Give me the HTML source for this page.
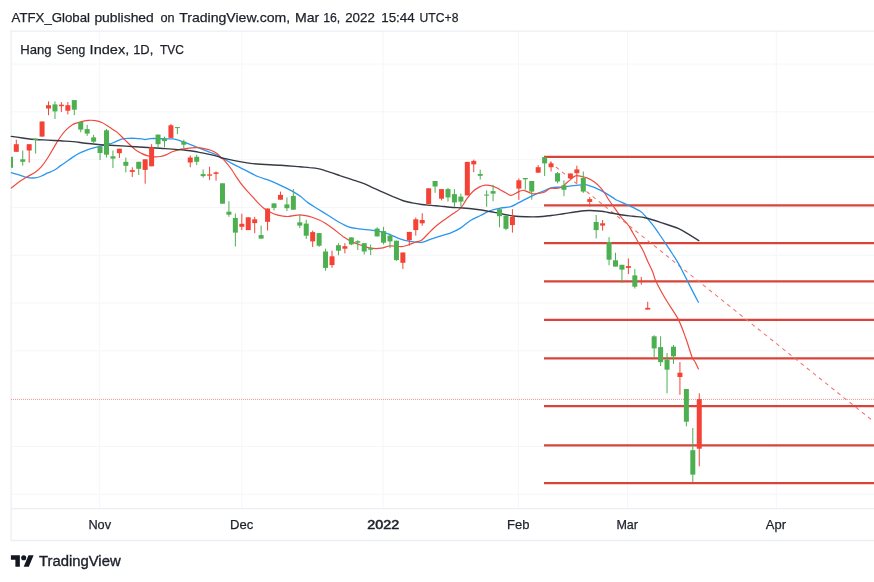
<!DOCTYPE html>
<html><head><meta charset="utf-8"><title>Hang Seng Index, 1D, TVC</title>
<style>
html,body{margin:0;padding:0;background:#fff;}
body{width:874px;height:582px;overflow:hidden;position:relative;font-family:"Liberation Sans",sans-serif;}
svg{position:absolute;left:0;top:0;display:block;}
text{font-family:"Liberation Sans",sans-serif;}
</style></head><body>
<svg width="874" height="582" viewBox="0 0 874 582">
<rect width="874" height="582" fill="#ffffff"/>

<g stroke="#f5f6fa" stroke-width="1">
<line x1="11" x2="874" y1="64.1" y2="64.1"/>
<line x1="11" x2="874" y1="111.9" y2="111.9"/>
<line x1="11" x2="874" y1="159.7" y2="159.7"/>
<line x1="11" x2="874" y1="207.5" y2="207.5"/>
<line x1="11" x2="874" y1="255.3" y2="255.3"/>
<line x1="11" x2="874" y1="303.1" y2="303.1"/>
<line x1="11" x2="874" y1="350.9" y2="350.9"/>
<line x1="11" x2="874" y1="398.7" y2="398.7"/>
<line x1="11" x2="874" y1="446.5" y2="446.5"/>
<line x1="11" x2="874" y1="494.3" y2="494.3"/>
<line y1="31" y2="508" x1="99.7" x2="99.7"/>
<line y1="31" y2="508" x1="241.9" x2="241.9"/>
<line y1="31" y2="508" x1="383.2" x2="383.2"/>
<line y1="31" y2="508" x1="518.4" x2="518.4"/>
<line y1="31" y2="508" x1="627.6" x2="627.6"/>
<line y1="31" y2="508" x1="776.3" x2="776.3"/>
</g>
<g stroke="#eceef3" stroke-width="1.3" fill="none">
<line x1="10.5" x2="874" y1="31.1" y2="31.1"/>
<line x1="10.5" x2="874" y1="508.7" y2="508.7"/>
<line x1="10.5" x2="874" y1="540.5" y2="540.5"/>
<line x1="11.1" x2="11.1" y1="30.5" y2="541"/>
</g>
<line x1="11" x2="874" y1="399.5" y2="399.5" stroke="#f44336" stroke-opacity="0.5" stroke-width="1" stroke-dasharray="1 1" shape-rendering="crispEdges"/>
<g stroke="#d9443a" stroke-width="2.25">
<line x1="544" x2="874" y1="156.9" y2="156.9"/>
<line x1="544" x2="874" y1="205.3" y2="205.3"/>
<line x1="544" x2="874" y1="243.0" y2="243.0"/>
<line x1="544" x2="874" y1="281.3" y2="281.3"/>
<line x1="544" x2="874" y1="319.9" y2="319.9"/>
<line x1="544" x2="874" y1="358.4" y2="358.4"/>
<line x1="544" x2="874" y1="406.2" y2="406.2"/>
<line x1="544" x2="874" y1="445.3" y2="445.3"/>
<line x1="544" x2="874" y1="483.1" y2="483.1"/>
</g>
<line x1="544" y1="157.5" x2="874" y2="421.8" stroke="#f0746c" stroke-width="1.05" stroke-dasharray="3.9 3.94" stroke-dashoffset="0.44"/>
<path d="M11.3 172.6C12.4 172.9 15.1 173.6 17.6 174.4C20.1 175.2 23.5 176.7 26.4 177.3C29.3 177.9 32.7 178.1 35.2 177.9C37.7 177.7 39.4 176.8 41.5 176.0C43.6 175.2 45.7 173.8 47.8 172.9C49.9 172.0 52.0 171.5 54.1 170.3C56.2 169.1 58.2 167.4 60.3 165.9C62.4 164.4 64.5 163.0 66.6 161.5C68.7 160.0 70.6 158.6 72.9 157.1C75.2 155.6 78.0 153.9 80.5 152.7C83.0 151.4 85.5 150.5 88.0 149.6C90.5 148.7 93.3 148.0 95.6 147.4C97.9 146.8 99.8 146.5 101.9 145.8C104.0 145.1 106.9 143.6 108.2 143.3C109.5 143.0 108.7 144.2 110.0 143.9C111.3 143.6 114.2 142.2 116.3 141.4C118.4 140.6 120.5 139.4 122.6 138.9C124.7 138.4 126.8 138.4 128.9 138.3C131.0 138.2 133.1 138.2 135.2 138.3C137.3 138.4 139.8 138.7 141.5 138.9C143.2 139.1 143.7 139.6 145.2 139.5C146.7 139.4 148.2 138.8 150.3 138.6C152.4 138.4 155.1 138.5 157.8 138.6C160.5 138.7 164.1 138.8 166.6 138.9C169.1 139.0 170.8 138.7 172.9 138.9C175.0 139.2 177.1 139.8 179.2 140.4C181.3 141.0 183.4 141.9 185.5 142.7C187.6 143.5 189.7 144.4 191.8 145.2C193.9 146.0 196.0 146.9 198.1 147.7C200.2 148.5 202.3 149.4 204.4 150.2C206.5 151.0 208.6 151.7 210.7 152.5C212.8 153.3 215.4 154.2 217.0 155.0C218.6 155.8 219.1 156.6 220.0 157.1C220.9 157.6 220.6 157.0 222.7 158.1C224.8 159.2 228.9 161.9 232.7 163.9C236.5 165.9 241.1 168.1 245.3 170.2C249.5 172.3 253.7 174.7 257.9 176.5C262.1 178.3 266.3 179.1 270.5 180.8C274.7 182.5 279.3 184.8 283.1 186.6C286.9 188.4 290.2 189.9 293.1 191.6C296.0 193.3 298.2 194.7 300.7 196.6C303.2 198.5 305.3 200.8 308.2 202.9C311.1 205.0 314.9 207.1 318.3 209.2C321.7 211.3 325.0 213.4 328.4 215.5C331.8 217.6 335.0 219.9 338.4 221.8C341.8 223.7 345.1 225.6 348.5 226.8C351.9 228.0 354.8 228.2 358.6 228.8C362.4 229.4 367.4 229.6 371.2 230.1C375.0 230.6 377.8 231.1 381.2 231.9C384.6 232.7 388.2 233.9 391.3 235.1C394.4 236.3 396.9 237.8 400.0 238.9C403.1 240.0 406.5 240.8 410.1 241.4C413.7 242.0 418.0 242.7 421.4 242.4C424.8 242.1 427.0 240.5 430.2 239.4C433.4 238.3 436.9 237.2 440.3 236.1C443.7 235.0 447.0 234.4 450.3 233.1C453.6 231.8 457.0 230.2 460.4 228.1C463.8 226.0 467.1 222.6 470.5 220.5C473.9 218.4 477.1 217.2 480.5 215.5C483.9 213.8 487.2 211.8 490.6 210.5C494.0 209.2 497.4 208.6 500.7 208.0C504.0 207.4 507.8 207.5 510.7 206.7C513.6 205.8 515.8 204.2 518.3 202.9C520.8 201.6 522.9 200.6 525.8 199.1C528.7 197.6 532.9 195.4 535.9 194.1C538.9 192.8 541.0 192.1 543.5 191.1C546.0 190.1 548.1 188.5 551.0 187.8C553.9 187.1 557.7 187.4 561.1 187.1C564.5 186.8 567.9 186.2 571.2 185.8C574.6 185.4 578.6 185.0 581.2 184.8C583.8 184.6 583.5 183.9 586.8 184.8C590.0 185.7 596.3 188.1 600.7 190.3C605.1 192.5 610.7 196.3 613.3 197.9C615.9 199.5 614.0 198.8 616.4 200.0C618.8 201.2 623.8 203.1 627.8 205.0C631.8 206.9 637.2 209.2 640.3 211.3C643.4 213.4 644.5 215.3 646.6 217.6C648.7 219.9 650.8 222.5 652.9 225.2C655.0 227.9 657.1 231.0 659.2 234.0C661.3 237.0 663.4 240.2 665.5 243.4C667.6 246.6 669.7 249.7 671.8 252.9C673.9 256.1 676.2 259.6 678.1 262.9C680.0 266.1 681.4 269.1 683.1 272.4C684.8 275.7 685.9 277.9 688.4 282.9C690.9 287.9 696.7 299.1 698.4 302.3" fill="none" stroke="#2a96f0" stroke-width="1.3" stroke-linejoin="round" stroke-linecap="round"/>
<path d="M11.3 188.0C12.4 187.2 15.1 184.7 17.6 182.9C20.1 181.1 23.5 179.1 26.4 177.3C29.3 175.5 32.7 174.0 35.2 172.2C37.7 170.4 39.4 169.0 41.5 166.6C43.6 164.2 45.7 161.1 47.8 157.8C49.9 154.6 52.0 150.6 54.1 147.1C56.2 143.6 58.2 139.9 60.3 137.0C62.4 134.1 64.5 131.5 66.6 129.4C68.7 127.3 70.6 125.7 72.9 124.4C75.2 123.2 78.0 122.6 80.5 121.9C83.0 121.2 85.5 120.6 88.0 120.4C90.5 120.2 93.3 120.2 95.6 120.6C97.9 120.9 99.8 121.5 101.9 122.5C104.0 123.5 106.9 125.5 108.2 126.3C109.5 127.1 108.4 126.5 110.0 127.6C111.6 128.7 115.1 130.5 117.6 132.6C120.1 134.7 122.2 137.3 125.1 140.1C128.0 142.9 132.5 147.4 135.2 149.6C137.9 151.8 139.4 152.3 141.5 153.4C143.6 154.5 145.7 155.3 147.8 155.9C149.9 156.5 152.0 156.7 154.1 156.8C156.2 156.9 158.2 156.9 160.3 156.5C162.4 156.1 164.5 155.4 166.6 154.6C168.7 153.8 170.8 152.3 172.9 151.5C175.0 150.7 177.1 150.1 179.2 149.6C181.3 149.1 183.4 149.0 185.5 148.7C187.6 148.4 189.7 148.1 191.8 147.9C193.9 147.7 196.0 147.6 198.1 147.7C200.2 147.8 202.3 148.3 204.4 148.7C206.5 149.1 208.6 149.4 210.7 150.2C212.8 151.0 215.4 152.3 217.0 153.4C218.6 154.5 218.6 155.2 220.0 156.5C221.4 157.8 223.2 159.2 225.2 161.4C227.2 163.7 230.1 167.3 232.0 170.0C233.9 172.7 235.2 175.3 236.8 177.7C238.4 180.1 239.8 182.2 241.6 184.4C243.3 186.6 245.4 189.0 247.3 191.1C249.2 193.2 251.0 195.2 252.9 197.2C254.8 199.2 256.6 201.4 258.5 203.3C260.4 205.2 262.1 206.9 264.1 208.4C266.1 209.9 268.4 211.2 270.5 212.3C272.6 213.4 274.9 214.3 276.9 214.9C278.9 215.5 280.6 215.7 282.5 216.0C284.4 216.3 286.2 216.6 288.1 216.5C290.0 216.4 291.8 216.0 293.7 215.7C295.6 215.4 297.3 214.9 299.3 214.9C301.3 214.9 303.6 215.3 305.7 215.7C307.8 216.1 310.0 216.6 312.1 217.3C314.2 218.0 316.4 218.8 318.5 219.7C320.6 220.6 322.5 221.4 324.9 222.9C327.3 224.4 330.4 226.6 332.9 228.5C335.4 230.4 338.2 232.7 340.0 234.1C341.8 235.5 341.7 235.7 343.5 236.9C345.3 238.1 348.1 240.0 351.0 241.4C353.9 242.8 357.7 244.1 361.1 245.2C364.5 246.3 367.9 247.7 371.2 248.2C374.5 248.7 378.1 248.6 381.2 248.2C384.3 247.8 386.6 246.2 390.0 245.9C393.4 245.6 398.2 246.8 401.3 246.6C404.4 246.4 406.6 245.4 408.9 244.7C411.2 244.0 413.1 242.9 415.2 242.2C417.3 241.5 419.4 241.7 421.5 240.3C423.6 238.9 425.7 236.1 427.8 234.0C429.9 231.9 432.0 229.6 434.1 227.7C436.2 225.8 438.2 224.3 440.3 222.7C442.4 221.1 444.5 219.8 446.6 218.3C448.7 216.8 450.8 215.3 452.9 213.8C455.0 212.3 457.5 210.9 459.2 209.4C460.9 207.9 461.8 206.7 463.0 205.0C464.2 203.3 465.0 201.3 466.6 199.1C468.2 196.8 470.8 193.5 472.9 191.5C475.0 189.5 477.1 188.2 479.2 187.1C481.3 186.0 483.4 185.4 485.5 185.2C487.6 185.0 489.7 185.3 491.8 185.8C493.9 186.3 496.7 187.8 498.1 188.4C499.5 189.1 498.7 189.0 500.0 189.7C501.3 190.4 503.8 191.9 505.7 192.8C507.6 193.7 509.1 195.5 511.3 195.3C513.5 195.1 516.8 192.4 518.9 191.6C521.0 190.8 521.8 190.0 523.9 190.3C526.0 190.6 529.2 193.0 531.5 193.5C533.8 194.0 535.7 193.7 537.8 193.5C539.9 193.3 542.0 193.0 544.1 192.2C546.2 191.3 548.2 189.0 550.3 188.4C552.4 187.8 554.7 188.6 556.6 188.4C558.5 188.2 560.2 187.9 561.7 187.2C563.2 186.5 563.9 185.3 565.4 184.0C566.9 182.7 568.8 181.0 570.5 179.6C572.2 178.2 573.6 176.3 575.5 175.8C577.4 175.3 579.7 176.1 581.8 176.5C583.9 176.9 586.0 177.5 588.1 178.4C590.2 179.3 592.3 180.5 594.4 182.1C596.5 183.7 598.8 185.7 600.7 187.8C602.6 189.9 604.3 192.7 605.7 194.7C607.1 196.7 607.3 197.7 608.9 200.0C610.5 202.3 613.1 205.9 615.2 208.8C617.3 211.7 619.4 215.0 621.5 217.6C623.6 220.2 625.9 222.0 627.8 224.5C629.7 227.0 631.1 229.9 632.8 232.7C634.5 235.5 636.1 238.6 637.8 241.5C639.5 244.4 641.2 246.9 642.9 250.3C644.6 253.7 646.2 258.0 647.9 261.7C649.6 265.4 651.6 269.3 652.9 272.4C654.2 275.5 653.5 275.9 655.6 280.4C657.7 284.9 661.9 292.8 665.7 299.3C669.5 305.8 674.9 312.9 678.3 319.4C681.6 325.9 683.5 332.0 685.8 338.3C688.1 344.6 690.6 353.4 692.1 357.2C693.6 361.0 693.7 359.4 694.7 361.3C695.8 363.2 697.8 367.6 698.4 368.9" fill="none" stroke="#ef4a3e" stroke-width="1.2" stroke-linejoin="round" stroke-linecap="round"/>
<path d="M11.3 136.4C13.2 136.7 18.6 137.5 22.6 138.0C26.6 138.5 31.0 139.2 35.2 139.5C39.4 139.8 43.6 139.9 47.8 140.1C52.0 140.3 56.1 140.6 60.3 140.8C64.5 141.1 68.7 141.2 72.9 141.6C77.1 142.0 81.3 142.8 85.5 143.3C89.7 143.8 94.3 144.2 98.1 144.5C101.9 144.8 106.2 145.3 108.2 145.4C110.2 145.5 105.5 145.0 110.0 145.2C114.5 145.4 126.8 146.2 135.2 146.7C143.6 147.2 151.9 147.7 160.3 148.3C168.7 148.9 179.2 149.6 185.5 150.2C191.8 150.8 193.9 151.4 198.1 152.1C202.3 152.8 207.0 153.8 210.7 154.6C214.3 155.4 218.0 156.5 220.0 157.1C222.0 157.7 217.6 157.0 222.7 158.1C227.8 159.2 240.7 162.2 250.3 163.4C259.9 164.6 272.2 164.6 280.5 165.2C288.8 165.8 295.1 166.4 300.0 166.8C304.9 167.2 306.4 167.2 309.6 167.6C312.8 167.9 315.9 168.2 319.2 168.9C322.5 169.7 326.1 171.0 329.6 172.1C333.1 173.2 336.2 174.3 340.0 175.6C343.8 176.8 348.1 178.3 352.1 179.6C356.1 180.9 360.5 182.2 364.1 183.6C367.7 185.0 370.5 186.6 373.7 188.1C376.9 189.6 380.1 191.0 383.3 192.4C386.5 193.8 389.7 195.2 392.9 196.6C396.1 197.9 399.3 199.4 402.5 200.5C405.7 201.6 408.9 202.2 412.1 202.9C415.3 203.6 418.5 204.1 421.7 204.5C424.9 204.9 428.2 205.1 431.3 205.4C434.4 205.7 436.8 205.8 440.0 206.1C443.2 206.4 446.5 206.9 450.3 207.2C454.1 207.5 458.7 207.7 462.9 208.0C467.1 208.3 471.3 208.7 475.5 209.2C479.7 209.7 483.9 210.4 488.1 211.2C492.3 211.9 496.5 212.9 500.7 213.7C504.9 214.5 509.1 215.5 513.3 216.0C517.5 216.5 521.6 216.7 525.8 216.8C530.0 216.9 534.2 217.0 538.4 216.8C542.6 216.6 546.8 216.0 551.0 215.5C555.2 215.0 559.4 214.3 563.6 213.7C567.8 213.1 572.0 212.2 576.2 211.7C580.4 211.2 584.6 210.6 588.8 210.5C593.0 210.4 598.2 210.9 601.4 211.2C604.6 211.5 605.0 211.9 608.2 212.5C611.4 213.1 616.6 214.2 620.8 214.8C625.0 215.4 629.2 215.8 633.4 216.3C637.6 216.8 641.4 216.9 646.0 218.0C650.6 219.1 655.6 220.8 661.1 222.6C666.6 224.4 674.1 226.6 678.7 228.6C683.3 230.6 685.4 232.4 688.8 234.4C692.1 236.4 697.1 239.6 698.8 240.7" fill="none" stroke="#363a45" stroke-width="1.4" stroke-linejoin="round" stroke-linecap="round"/>
<g>
<rect x="11" y="156.8" width="2" height="11" fill="#4caf50"/>
<rect x="15.80" y="139.7" width="1" height="12.1" fill="#f44336"/>
<rect x="13.80" y="144.2" width="5" height="7.6" fill="#f44336"/>
<rect x="22.24" y="150.5" width="1" height="15.1" fill="#4caf50"/>
<rect x="20.24" y="159.3" width="5" height="2.5" fill="#4caf50"/>
<rect x="28.69" y="144.2" width="1" height="18.4" fill="#f44336"/>
<rect x="26.69" y="144.2" width="5" height="6.3" fill="#f44336"/>
<rect x="35.13" y="138.6" width="1" height="14.9" fill="#4caf50"/>
<rect x="33.13" y="138.6" width="5" height="1.3" fill="#4caf50"/>
<rect x="41.57" y="121.5" width="1" height="15.1" fill="#f44336"/>
<rect x="39.57" y="121.5" width="5" height="15.1" fill="#f44336"/>
<rect x="48.02" y="101.4" width="1" height="13.8" fill="#f44336"/>
<rect x="46.02" y="105.2" width="5" height="3.3" fill="#f44336"/>
<rect x="54.46" y="101.4" width="1" height="17.6" fill="#4caf50"/>
<rect x="52.46" y="104.4" width="5" height="7.0" fill="#4caf50"/>
<rect x="60.90" y="102.1" width="1" height="9.8" fill="#f44336"/>
<rect x="58.90" y="104.7" width="5" height="1.5" fill="#f44336"/>
<rect x="67.34" y="102.1" width="1" height="12.3" fill="#f44336"/>
<rect x="65.34" y="105.2" width="5" height="5.5" fill="#f44336"/>
<rect x="73.79" y="100.1" width="1" height="15.1" fill="#4caf50"/>
<rect x="71.79" y="100.1" width="5" height="9.6" fill="#4caf50"/>
<rect x="80.23" y="122.0" width="1" height="10.3" fill="#4caf50"/>
<rect x="78.23" y="122.0" width="5" height="7.6" fill="#4caf50"/>
<rect x="86.67" y="124.8" width="1" height="11.1" fill="#4caf50"/>
<rect x="84.67" y="129.1" width="5" height="4.5" fill="#4caf50"/>
<rect x="93.12" y="134.9" width="1" height="8.6" fill="#4caf50"/>
<rect x="91.12" y="137.4" width="5" height="4.3" fill="#4caf50"/>
<rect x="99.56" y="146.7" width="1" height="13.3" fill="#4caf50"/>
<rect x="97.56" y="146.7" width="5" height="6.3" fill="#4caf50"/>
<rect x="106.00" y="129.1" width="1" height="28.4" fill="#4caf50"/>
<rect x="104.00" y="130.3" width="5" height="24.4" fill="#4caf50"/>
<rect x="112.44" y="150.5" width="1" height="17.6" fill="#4caf50"/>
<rect x="110.44" y="156.3" width="5" height="2.3" fill="#4caf50"/>
<rect x="118.89" y="148.7" width="1" height="9.3" fill="#f44336"/>
<rect x="116.89" y="148.7" width="5" height="4.5" fill="#f44336"/>
<rect x="125.33" y="157.5" width="1" height="14.9" fill="#4caf50"/>
<rect x="123.33" y="161.8" width="5" height="4.0" fill="#4caf50"/>
<rect x="131.77" y="167.3" width="1" height="9.6" fill="#f44336"/>
<rect x="129.77" y="170.1" width="5" height="1.8" fill="#f44336"/>
<rect x="138.22" y="161.8" width="1" height="13.1" fill="#4caf50"/>
<rect x="136.22" y="161.8" width="5" height="7.0" fill="#4caf50"/>
<rect x="144.66" y="159.3" width="1" height="24.4" fill="#f44336"/>
<rect x="142.66" y="159.3" width="5" height="10.6" fill="#f44336"/>
<rect x="151.10" y="144.2" width="1" height="22.1" fill="#f44336"/>
<rect x="149.10" y="147.2" width="5" height="19.1" fill="#f44336"/>
<rect x="157.55" y="134.6" width="1" height="13.3" fill="#4caf50"/>
<rect x="155.55" y="134.6" width="5" height="9.6" fill="#4caf50"/>
<rect x="163.99" y="136.6" width="1" height="10.8" fill="#4caf50"/>
<rect x="161.99" y="138.6" width="5" height="2.5" fill="#4caf50"/>
<rect x="170.43" y="124.0" width="1" height="13.8" fill="#f44336"/>
<rect x="168.43" y="125.3" width="5" height="12.6" fill="#f44336"/>
<rect x="176.88" y="127.1" width="1" height="7.0" fill="#4caf50"/>
<rect x="174.88" y="127.1" width="5" height="1.0" fill="#4caf50"/>
<rect x="183.32" y="139.7" width="1" height="8.3" fill="#4caf50"/>
<rect x="181.32" y="141.7" width="5" height="3.0" fill="#4caf50"/>
<rect x="189.76" y="155.5" width="1" height="11.8" fill="#f44336"/>
<rect x="187.76" y="157.5" width="5" height="5.0" fill="#f44336"/>
<rect x="196.20" y="154.8" width="1" height="10.3" fill="#4caf50"/>
<rect x="194.20" y="156.8" width="5" height="5.0" fill="#4caf50"/>
<rect x="202.65" y="169.4" width="1" height="8.3" fill="#4caf50"/>
<rect x="200.65" y="174.1" width="5" height="2.0" fill="#4caf50"/>
<rect x="209.09" y="166.8" width="1" height="13.3" fill="#f44336"/>
<rect x="207.09" y="174.4" width="5" height="1.3" fill="#f44336"/>
<rect x="215.53" y="171.4" width="1" height="9.3" fill="#f44336"/>
<rect x="213.53" y="172.4" width="5" height="1.5" fill="#f44336"/>
<rect x="221.98" y="183.3" width="1" height="20.4" fill="#4caf50"/>
<rect x="219.98" y="183.3" width="5" height="20.4" fill="#4caf50"/>
<rect x="228.42" y="201.2" width="1" height="15.6" fill="#4caf50"/>
<rect x="226.42" y="211.7" width="5" height="3.0" fill="#4caf50"/>
<rect x="234.86" y="213.5" width="1" height="33.0" fill="#4caf50"/>
<rect x="232.86" y="218.0" width="5" height="14.6" fill="#4caf50"/>
<rect x="241.31" y="213.7" width="1" height="16.4" fill="#f44336"/>
<rect x="239.31" y="223.8" width="5" height="3.0" fill="#f44336"/>
<rect x="247.75" y="217.3" width="1" height="12.8" fill="#f44336"/>
<rect x="245.75" y="217.3" width="5" height="12.8" fill="#f44336"/>
<rect x="254.19" y="216.8" width="1" height="16.4" fill="#f44336"/>
<rect x="252.19" y="219.3" width="5" height="3.8" fill="#f44336"/>
<rect x="260.63" y="225.6" width="1" height="13.1" fill="#4caf50"/>
<rect x="258.63" y="235.1" width="5" height="3.5" fill="#4caf50"/>
<rect x="267.08" y="208.5" width="1" height="22.1" fill="#f44336"/>
<rect x="265.08" y="208.5" width="5" height="13.3" fill="#f44336"/>
<rect x="273.52" y="203.4" width="1" height="7.0" fill="#4caf50"/>
<rect x="271.52" y="203.4" width="5" height="4.5" fill="#4caf50"/>
<rect x="279.96" y="191.6" width="1" height="8.1" fill="#f44336"/>
<rect x="277.96" y="194.9" width="5" height="4.8" fill="#f44336"/>
<rect x="286.41" y="197.4" width="1" height="13.6" fill="#4caf50"/>
<rect x="284.41" y="204.4" width="5" height="3.8" fill="#4caf50"/>
<rect x="292.85" y="189.1" width="1" height="20.6" fill="#4caf50"/>
<rect x="290.85" y="195.9" width="5" height="13.8" fill="#4caf50"/>
<rect x="299.29" y="215.0" width="1" height="13.1" fill="#4caf50"/>
<rect x="297.29" y="222.3" width="5" height="3.3" fill="#4caf50"/>
<rect x="305.74" y="219.8" width="1" height="19.1" fill="#4caf50"/>
<rect x="303.74" y="223.6" width="5" height="12.1" fill="#4caf50"/>
<rect x="312.18" y="230.6" width="1" height="16.4" fill="#f44336"/>
<rect x="310.18" y="232.1" width="5" height="9.3" fill="#f44336"/>
<rect x="318.62" y="233.1" width="1" height="13.8" fill="#4caf50"/>
<rect x="316.62" y="233.1" width="5" height="12.6" fill="#4caf50"/>
<rect x="325.06" y="248.7" width="1" height="22.1" fill="#4caf50"/>
<rect x="323.06" y="251.5" width="5" height="16.4" fill="#4caf50"/>
<rect x="331.51" y="250.7" width="1" height="17.1" fill="#f44336"/>
<rect x="329.51" y="256.3" width="5" height="8.8" fill="#f44336"/>
<rect x="337.95" y="243.2" width="1" height="12.1" fill="#4caf50"/>
<rect x="335.95" y="245.2" width="5" height="5.5" fill="#4caf50"/>
<rect x="344.39" y="243.2" width="1" height="10.1" fill="#f44336"/>
<rect x="342.39" y="246.2" width="5" height="2.5" fill="#f44336"/>
<rect x="350.84" y="237.4" width="1" height="7.8" fill="#4caf50"/>
<rect x="348.84" y="237.4" width="5" height="7.0" fill="#4caf50"/>
<rect x="357.28" y="240.2" width="1" height="9.8" fill="#4caf50"/>
<rect x="355.28" y="241.2" width="5" height="1.5" fill="#4caf50"/>
<rect x="363.72" y="243.2" width="1" height="11.3" fill="#4caf50"/>
<rect x="361.72" y="243.2" width="5" height="8.3" fill="#4caf50"/>
<rect x="370.16" y="244.5" width="1" height="10.6" fill="#4caf50"/>
<rect x="368.16" y="248.2" width="5" height="1.5" fill="#4caf50"/>
<rect x="376.61" y="227.3" width="1" height="9.1" fill="#4caf50"/>
<rect x="374.61" y="228.6" width="5" height="7.8" fill="#4caf50"/>
<rect x="383.05" y="226.8" width="1" height="17.6" fill="#4caf50"/>
<rect x="381.05" y="231.1" width="5" height="11.6" fill="#4caf50"/>
<rect x="389.49" y="233.6" width="1" height="14.6" fill="#4caf50"/>
<rect x="387.49" y="235.6" width="5" height="5.8" fill="#4caf50"/>
<rect x="395.94" y="240.7" width="1" height="20.1" fill="#4caf50"/>
<rect x="393.94" y="240.7" width="5" height="19.4" fill="#4caf50"/>
<rect x="402.38" y="252.5" width="1" height="16.4" fill="#f44336"/>
<rect x="400.38" y="252.5" width="5" height="10.3" fill="#f44336"/>
<rect x="408.82" y="231.9" width="1" height="13.8" fill="#f44336"/>
<rect x="406.82" y="231.9" width="5" height="8.3" fill="#f44336"/>
<rect x="415.27" y="217.5" width="1" height="18.1" fill="#f44336"/>
<rect x="413.27" y="219.3" width="5" height="10.8" fill="#f44336"/>
<rect x="421.71" y="213.2" width="1" height="12.6" fill="#f44336"/>
<rect x="419.71" y="220.0" width="5" height="3.3" fill="#f44336"/>
<rect x="428.15" y="188.3" width="1" height="15.9" fill="#f44336"/>
<rect x="426.15" y="188.3" width="5" height="15.9" fill="#f44336"/>
<rect x="434.59" y="181.0" width="1" height="11.8" fill="#4caf50"/>
<rect x="432.59" y="181.0" width="5" height="5.5" fill="#4caf50"/>
<rect x="441.04" y="189.1" width="1" height="11.3" fill="#f44336"/>
<rect x="439.04" y="189.1" width="5" height="9.6" fill="#f44336"/>
<rect x="447.48" y="187.8" width="1" height="13.8" fill="#4caf50"/>
<rect x="445.48" y="189.1" width="5" height="8.3" fill="#4caf50"/>
<rect x="453.92" y="189.1" width="1" height="17.6" fill="#4caf50"/>
<rect x="451.92" y="194.1" width="5" height="8.3" fill="#4caf50"/>
<rect x="460.37" y="193.6" width="1" height="13.1" fill="#4caf50"/>
<rect x="458.37" y="196.6" width="5" height="5.0" fill="#4caf50"/>
<rect x="466.81" y="161.9" width="1" height="33.5" fill="#f44336"/>
<rect x="464.81" y="161.9" width="5" height="33.5" fill="#f44336"/>
<rect x="473.25" y="159.6" width="1" height="12.6" fill="#f44336"/>
<rect x="471.25" y="160.9" width="5" height="3.5" fill="#f44336"/>
<rect x="479.70" y="169.7" width="1" height="9.8" fill="#4caf50"/>
<rect x="477.70" y="174.0" width="5" height="1.8" fill="#4caf50"/>
<rect x="486.14" y="190.3" width="1" height="16.4" fill="#4caf50"/>
<rect x="484.14" y="194.6" width="5" height="1.0" fill="#4caf50"/>
<rect x="492.58" y="184.8" width="1" height="16.4" fill="#4caf50"/>
<rect x="490.58" y="191.1" width="5" height="2.5" fill="#4caf50"/>
<rect x="499.02" y="209.2" width="1" height="18.1" fill="#4caf50"/>
<rect x="497.02" y="209.2" width="5" height="7.0" fill="#4caf50"/>
<rect x="505.47" y="214.8" width="1" height="15.4" fill="#4caf50"/>
<rect x="503.47" y="215.5" width="5" height="13.3" fill="#4caf50"/>
<rect x="511.91" y="209.2" width="1" height="23.4" fill="#f44336"/>
<rect x="509.91" y="216.8" width="5" height="8.3" fill="#f44336"/>
<rect x="518.35" y="178.5" width="1" height="21.4" fill="#f44336"/>
<rect x="516.35" y="180.3" width="5" height="8.3" fill="#f44336"/>
<rect x="524.80" y="178.0" width="1" height="11.6" fill="#4caf50"/>
<rect x="522.80" y="178.0" width="5" height="1.3" fill="#4caf50"/>
<rect x="531.24" y="181.0" width="1" height="18.6" fill="#4caf50"/>
<rect x="529.24" y="181.0" width="5" height="10.6" fill="#4caf50"/>
<rect x="537.68" y="165.2" width="1" height="7.6" fill="#f44336"/>
<rect x="535.68" y="167.2" width="5" height="5.5" fill="#f44336"/>
<rect x="544.13" y="157.1" width="1" height="18.9" fill="#4caf50"/>
<rect x="542.13" y="157.1" width="5" height="6.3" fill="#4caf50"/>
<rect x="550.57" y="161.4" width="1" height="10.1" fill="#f44336"/>
<rect x="548.57" y="163.4" width="5" height="3.8" fill="#f44336"/>
<rect x="557.01" y="172.0" width="1" height="11.3" fill="#4caf50"/>
<rect x="555.01" y="173.2" width="5" height="8.3" fill="#4caf50"/>
<rect x="563.45" y="180.3" width="1" height="15.9" fill="#4caf50"/>
<rect x="561.45" y="185.3" width="5" height="4.5" fill="#4caf50"/>
<rect x="569.90" y="173.5" width="1" height="4.8" fill="#f44336"/>
<rect x="567.90" y="173.5" width="5" height="4.8" fill="#f44336"/>
<rect x="576.34" y="165.7" width="1" height="17.1" fill="#f44336"/>
<rect x="574.34" y="169.4" width="5" height="3.8" fill="#f44336"/>
<rect x="582.78" y="171.5" width="1" height="21.4" fill="#4caf50"/>
<rect x="580.78" y="177.8" width="5" height="13.8" fill="#4caf50"/>
<rect x="589.23" y="197.1" width="1" height="9.6" fill="#f44336"/>
<rect x="587.23" y="199.1" width="5" height="2.8" fill="#f44336"/>
<rect x="595.67" y="215.0" width="1" height="23.4" fill="#4caf50"/>
<rect x="593.67" y="222.0" width="5" height="8.1" fill="#4caf50"/>
<rect x="602.11" y="220.0" width="1" height="10.6" fill="#f44336"/>
<rect x="600.11" y="223.3" width="5" height="2.3" fill="#f44336"/>
<rect x="608.56" y="237.1" width="1" height="28.2" fill="#4caf50"/>
<rect x="606.56" y="242.1" width="5" height="17.6" fill="#4caf50"/>
<rect x="615.00" y="252.7" width="1" height="13.8" fill="#4caf50"/>
<rect x="613.00" y="260.3" width="5" height="6.3" fill="#4caf50"/>
<rect x="621.44" y="264.8" width="1" height="18.1" fill="#4caf50"/>
<rect x="619.44" y="264.8" width="5" height="4.8" fill="#4caf50"/>
<rect x="627.88" y="258.5" width="1" height="15.6" fill="#f44336"/>
<rect x="625.88" y="266.1" width="5" height="1.8" fill="#f44336"/>
<rect x="634.33" y="269.1" width="1" height="19.4" fill="#4caf50"/>
<rect x="632.33" y="275.4" width="5" height="11.3" fill="#4caf50"/>
<rect x="640.77" y="276.9" width="1" height="7.8" fill="#f44336"/>
<rect x="647.21" y="301.8" width="1" height="7.8" fill="#f44336"/>
<rect x="645.21" y="307.8" width="5" height="1.8" fill="#f44336"/>
<rect x="653.66" y="335.3" width="1" height="21.9" fill="#4caf50"/>
<rect x="651.66" y="336.3" width="5" height="12.1" fill="#4caf50"/>
<rect x="660.10" y="336.3" width="1" height="29.7" fill="#4caf50"/>
<rect x="658.10" y="347.1" width="5" height="15.1" fill="#4caf50"/>
<rect x="666.54" y="353.0" width="1" height="40.3" fill="#4caf50"/>
<rect x="664.54" y="359.6" width="5" height="10.1" fill="#4caf50"/>
<rect x="672.99" y="345.0" width="1" height="18.9" fill="#4caf50"/>
<rect x="670.99" y="346.7" width="5" height="9.6" fill="#4caf50"/>
<rect x="679.43" y="362.1" width="1" height="32.7" fill="#f44336"/>
<rect x="677.43" y="372.7" width="5" height="4.3" fill="#f44336"/>
<rect x="685.87" y="389.0" width="1" height="37.3" fill="#4caf50"/>
<rect x="683.87" y="389.0" width="5" height="32.7" fill="#4caf50"/>
<rect x="692.31" y="428.0" width="1" height="54.1" fill="#4caf50"/>
<rect x="690.31" y="450.2" width="5" height="24.4" fill="#4caf50"/>
<rect x="698.76" y="393.3" width="1" height="73.0" fill="#f44336"/>
<rect x="696.76" y="399.1" width="5" height="49.6" fill="#f44336"/>
</g>
<text x="11.6" y="21.8" font-size="13.5" fill="#1c2029" textLength="78.4" lengthAdjust="spacingAndGlyphs" stroke="#1c2029" stroke-width="0.25">ATFX_Global</text>
<text x="94.4" y="21.8" font-size="13.5" fill="#1c2029" textLength="59.4" lengthAdjust="spacingAndGlyphs" stroke="#1c2029" stroke-width="0.25">published</text>
<text x="160.4" y="21.8" font-size="13.5" fill="#1c2029" textLength="14.1" lengthAdjust="spacingAndGlyphs" stroke="#1c2029" stroke-width="0.25">on</text>
<text x="179.2" y="21.8" font-size="13.5" fill="#1c2029" textLength="111.0" lengthAdjust="spacingAndGlyphs" stroke="#1c2029" stroke-width="0.25">TradingView.com,</text>
<text x="295.0" y="21.8" font-size="13.5" fill="#1c2029" textLength="24.3" lengthAdjust="spacingAndGlyphs" stroke="#1c2029" stroke-width="0.25">Mar</text>
<text x="323.2" y="21.8" font-size="13.5" fill="#1c2029" textLength="17.1" lengthAdjust="spacingAndGlyphs" stroke="#1c2029" stroke-width="0.25">16,</text>
<text x="345.2" y="21.8" font-size="13.5" fill="#1c2029" textLength="29.7" lengthAdjust="spacingAndGlyphs" stroke="#1c2029" stroke-width="0.25">2022</text>
<text x="381.2" y="21.8" font-size="13.5" fill="#1c2029" textLength="33.6" lengthAdjust="spacingAndGlyphs" stroke="#1c2029" stroke-width="0.25">15:44</text>
<text x="419.6" y="21.8" font-size="13.5" fill="#1c2029" textLength="38.8" lengthAdjust="spacingAndGlyphs" stroke="#1c2029" stroke-width="0.25">UTC+8</text>
<text x="20.2" y="53.7" font-size="13.5" fill="#1c2029" textLength="31.3" lengthAdjust="spacingAndGlyphs" stroke="#1c2029" stroke-width="0.25">Hang</text>
<text x="56.8" y="53.7" font-size="13.5" fill="#1c2029" textLength="28.4" lengthAdjust="spacingAndGlyphs" stroke="#1c2029" stroke-width="0.25">Seng</text>
<text x="89.6" y="53.7" font-size="13.5" fill="#1c2029" textLength="39.6" lengthAdjust="spacingAndGlyphs" stroke="#1c2029" stroke-width="0.25">Index,</text>
<text x="133.2" y="53.7" font-size="13.5" fill="#1c2029" textLength="20.1" lengthAdjust="spacingAndGlyphs" stroke="#1c2029" stroke-width="0.25">1D,</text>
<text x="160.0" y="53.7" font-size="13.5" fill="#1c2029" textLength="23.9" lengthAdjust="spacingAndGlyphs" stroke="#1c2029" stroke-width="0.25">TVC</text>
<text x="88.4" y="528.9" font-size="13.5" fill="#1c2029" textLength="22.7" lengthAdjust="spacingAndGlyphs" stroke="#1c2029" stroke-width="0.25">Nov</text>
<text x="230.0" y="528.9" font-size="13.5" fill="#1c2029" textLength="23.2" lengthAdjust="spacingAndGlyphs" stroke="#1c2029" stroke-width="0.25">Dec</text>
<text x="507.0" y="528.9" font-size="13.5" fill="#1c2029" textLength="22.4" lengthAdjust="spacingAndGlyphs" stroke="#1c2029" stroke-width="0.25">Feb</text>
<text x="616.4" y="528.9" font-size="13.5" fill="#1c2029" textLength="21.6" lengthAdjust="spacingAndGlyphs" stroke="#1c2029" stroke-width="0.25">Mar</text>
<text x="765.8" y="528.9" font-size="13.5" fill="#1c2029" textLength="20.2" lengthAdjust="spacingAndGlyphs" stroke="#1c2029" stroke-width="0.25">Apr</text>
<text x="367.3" y="528.9" font-size="13.5" fill="#1c2029" textLength="31.8" lengthAdjust="spacingAndGlyphs" stroke="#1c2029" stroke-width="0.6">2022</text>
<g transform="translate(10.9,552.6) scale(0.64)" fill="#131722"><path d="M14 22H7V11H0V4h14v18z"/><circle cx="20" cy="8" r="4"/><path d="M28 22h-8l7.5-18h8L28 22z"/></g>
<text x="39.0" y="566.2" font-size="14" fill="#1c2029" textLength="81.6" lengthAdjust="spacingAndGlyphs" stroke="#1c2029" stroke-width="0.35">TradingView</text>
</svg></body></html>
